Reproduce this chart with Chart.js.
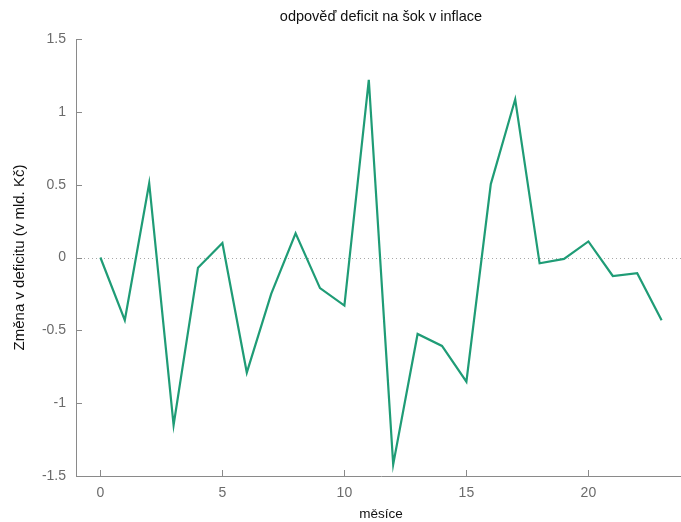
<!DOCTYPE html>
<html>
<head>
<meta charset="utf-8">
<script src="https://cdn.jsdelivr.net/npm/chart.js@4/dist/chart.umd.min.js"></script>
<style>
  html, body { margin: 0; padding: 0; background: #fff; overflow: hidden; }
  #wrap { width: 686px; height: 522px; }
</style>
</head>
<body>
<div id="wrap"><canvas id="c"></canvas></div>
<script>
// Months after the shock and the deficit response (bn CZK)
const months = [0, 1, 2, 3, 4, 5, 6, 7, 8, 9, 10, 11, 12, 13, 14, 15, 16, 17, 18, 19, 20, 21, 22, 23];
const deficitResponse = [0.00, -0.43, 0.51, -1.15, -0.07, 0.10, -0.79, -0.25, 0.166, -0.21, -0.33, 1.22,
                         -1.42, -0.525, -0.607, -0.852, 0.504, 1.086, -0.04, -0.01, 0.11, -0.127, -0.108, -0.43];
const xTickValues = [0, 5, 10, 15, 20];
const yTickValues = [-1.5, -1, -0.5, 0, 0.5, 1, 1.5];

const axisColor = '#8a8a8a';
const tickTextColor = '#6b6b6b';
const lineColor = '#1f9c76';
const fontFamily = '"Liberation Sans", Arial, Helvetica, sans-serif';

// Inward tick marks plus the dotted zero reference line
const axisDecor = {
  id: 'axisDecor',
  beforeDatasetsDraw(chart) {
    const { ctx, chartArea, scales: { x, y } } = chart;
    ctx.save();
    // zero line
    const y0 = y.getPixelForValue(0);
    ctx.strokeStyle = '#a8a8a8';
    ctx.lineWidth = 1;
    ctx.setLineDash([1, 3]);
    ctx.beginPath();
    ctx.moveTo(chartArea.left, Math.round(y0) + 0.5);
    ctx.lineTo(chartArea.right, Math.round(y0) + 0.5);
    ctx.stroke();
    ctx.setLineDash([]);
    // ticks
    ctx.strokeStyle = axisColor;
    ctx.beginPath();
    yTickValues.forEach(v => {
      const py = Math.round(y.getPixelForValue(v)) + 0.5;
      ctx.moveTo(chartArea.left, py);
      ctx.lineTo(chartArea.left + 6, py);
    });
    xTickValues.forEach(v => {
      const px = Math.round(x.getPixelForValue(v)) + 0.5;
      ctx.moveTo(px, chartArea.bottom);
      ctx.lineTo(px, chartArea.bottom - 6);
    });
    ctx.stroke();
    ctx.restore();
  }
};

new Chart(document.getElementById('c'), {
  type: 'line',
  data: {
    datasets: [{
      data: months.map((m, i) => ({ x: m, y: deficitResponse[i] })),
      borderColor: lineColor,
      borderWidth: 2.2,
      pointRadius: 0,
      fill: false,
      tension: 0
    }]
  },
  options: {
    responsive: true,
    maintainAspectRatio: false,
    animation: false,
    layout: { padding: 0 },
    plugins: {
      legend: { display: false },
      tooltip: { enabled: false },
      title: {
        display: true,
        fullSize: false,
        text: 'odpověď deficit na šok v inflace',
        color: '#111',
        font: { family: fontFamily, size: 14.5, weight: 'normal' },
        padding: { top: 8, bottom: 13.6 }
      }
    },
    scales: {
      x: {
        type: 'linear',
        min: -1,
        max: 24,
        afterFit(scale) { scale.height = 46; },
        afterBuildTicks(scale) { scale.ticks = xTickValues.map(v => ({ value: v })); },
        grid: { display: false, drawTicks: false },
        border: { display: true, color: axisColor, width: 1 },
        ticks: {
          color: tickTextColor,
          font: { family: fontFamily, size: 14 },
          padding: 9,
          maxRotation: 0,
          callback: v => String(v)
        },
        title: {
          display: true,
          text: 'měsíce',
          color: '#111',
          font: { family: fontFamily, size: 13.5 },
          padding: { top: 0, bottom: 0 }
        }
      },
      y: {
        type: 'linear',
        min: -1.5,
        max: 1.5,
        afterFit(scale) { scale.width = 76; },
        afterBuildTicks(scale) { scale.ticks = yTickValues.map(v => ({ value: v })); },
        grid: { display: false, drawTicks: false },
        border: { display: true, color: axisColor, width: 1 },
        ticks: {
          color: tickTextColor,
          font: { family: fontFamily, size: 14 },
          padding: 10,
          callback: v => String(v)
        },
        title: {
          display: true,
          text: 'Změna v deficitu (v mld. Kč)',
          color: '#111',
          font: { family: fontFamily, size: 15 },
          padding: { top: 11, bottom: 0 }
        }
      }
    }
  },
  plugins: [axisDecor]
});
</script>
</body>
</html>
